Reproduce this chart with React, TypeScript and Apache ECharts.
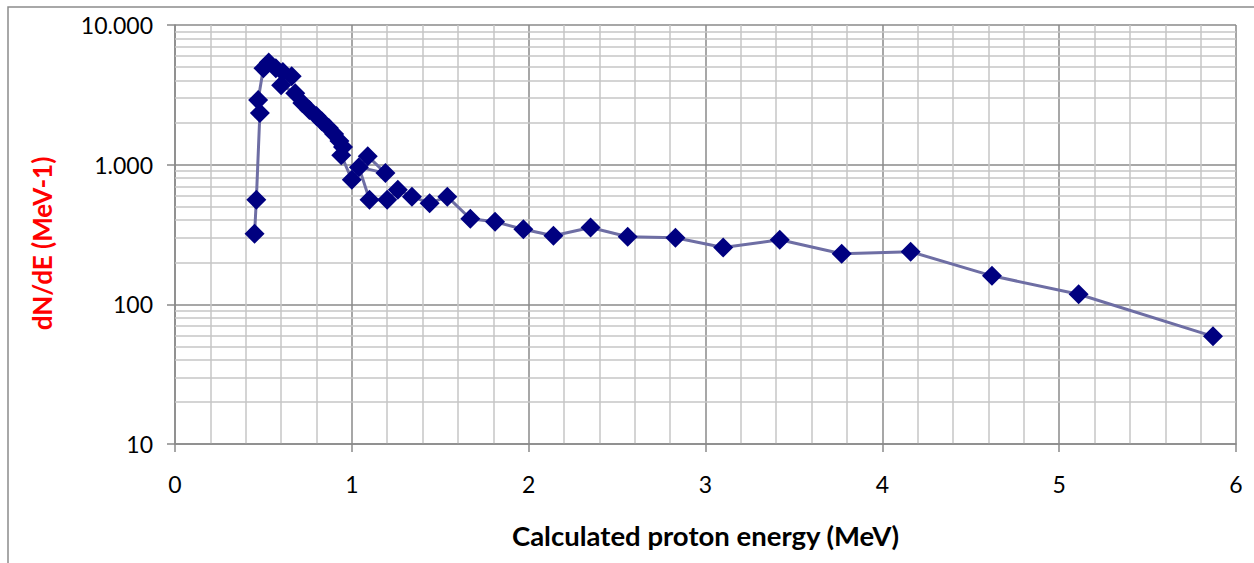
import React, { useEffect, useRef } from "react";
import * as echarts from "echarts";

// Calculated proton energy (MeV), in measurement order
const energy = [
  0.45, 0.46, 0.48, 0.47, 0.5, 0.53, 0.57, 0.61, 0.66, 0.6, 0.68, 0.72, 0.76,
  0.8, 0.83, 0.87, 0.9, 0.93, 0.95, 0.94, 1.0, 1.09, 1.19, 1.04, 1.1, 1.2,
  1.26, 1.34, 1.44, 1.54, 1.67, 1.81, 1.97, 2.14, 2.35, 2.56, 2.83, 3.1,
  3.42, 3.77, 4.16, 4.62, 5.11, 5.87,
];

// dN/dE (MeV-1)
const dNdE = [
  320, 560, 2340, 2900, 4900, 5400, 4900, 4600, 4300, 3700, 3250, 2760, 2460,
  2230, 2050, 1830, 1660, 1480, 1340, 1170, 780, 1150, 870, 960, 560, 560,
  660, 590, 530, 590, 410, 390, 345, 310, 355, 305, 300, 255, 290, 230, 238,
  160, 118, 59,
];

// Minor horizontal grid levels of the log axis
const minorLevels = [
  20, 30, 40, 50, 60, 70, 80, 90, 200, 300, 400, 500, 600, 700, 800, 900,
  2000, 3000, 4000, 5000, 6000, 7000, 8000, 9000,
];

const FONT = "Lato, 'Open Sans', sans-serif";

const withThousandsDot = (v: number) =>
  String(Math.round(v)).replace(/\B(?=(\d{3})+$)/g, ".");

export default function App() {
  const ref = useRef<HTMLDivElement>(null);

  useEffect(() => {
    if (!ref.current) return;
    const chart = echarts.init(ref.current, null, { renderer: "svg" });
    const points = energy.map((e, i) => [e, dNdE[i]]);

    chart.setOption({
      animation: false,
      backgroundColor: "#ffffff",
      textStyle: { fontFamily: FONT },
      grid: { left: 175, top: 25, right: 18, bottom: 119, containLabel: false },
      graphic: [
        {
          type: "rect",
          shape: { x: 8, y: 7, width: 1320, height: 620 },
          style: { fill: "none", stroke: "#8c8c8c", lineWidth: 1.5 },
          silent: true,
          z: -1,
        },
      ],
      xAxis: {
        type: "value",
        min: 0,
        max: 6,
        interval: 1,
        name: "Calculated proton energy (MeV)",
        nameLocation: "middle",
        nameGap: 77,
        nameTextStyle: {
          fontFamily: FONT,
          fontWeight: "bold",
          fontSize: 27.5,
          color: "#000000",
        },
        axisLine: { show: true, lineStyle: { color: "#8a8a8a", width: 1.5 } },
        axisTick: { show: true, length: 8, lineStyle: { color: "#8a8a8a", width: 1.5 } },
        axisLabel: { fontFamily: FONT, fontSize: 23, color: "#000000", margin: 28 },
        splitLine: { show: true, lineStyle: { color: "#8a8a8a", width: 1.5 } },
        minorTick: { show: false, splitNumber: 5 },
        minorSplitLine: { show: true, lineStyle: { color: "#c6c6c6", width: 1.5 } },
      },
      yAxis: {
        type: "log",
        logBase: 10,
        min: 10,
        max: 10000,
        name: "dN/dE (MeV-1)",
        nameLocation: "middle",
        nameGap: 120,
        nameRotate: 90,
        nameTextStyle: {
          fontFamily: FONT,
          fontWeight: "bold",
          fontSize: 26,
          color: "#ff0000",
          padding: [0, 18, 0, 0],
        },
        axisLine: { show: true, lineStyle: { color: "#8a8a8a", width: 1.5 } },
        axisTick: { show: true, length: 8, lineStyle: { color: "#8a8a8a", width: 1.5 } },
        axisLabel: {
          fontFamily: FONT,
          fontSize: 23,
          color: "#000000",
          margin: 22,
          formatter: withThousandsDot,
        },
        splitLine: { show: true, lineStyle: { color: "#8a8a8a", width: 1.5 } },
      },
      series: [
        {
          type: "line",
          data: points,
          z: 3,
          symbol: "diamond",
          symbolSize: 20,
          itemStyle: { color: "#000080" },
          lineStyle: { color: "#6e6ea4", width: 3 },
          markLine: {
            silent: true,
            z: 1,
            symbol: ["none", "none"],
            label: { show: false },
            lineStyle: { color: "#c6c6c6", width: 1.5, type: "solid" },
            emphasis: { disabled: true },
            data: minorLevels.map((v) => ({ yAxis: v })),
          },
        },
      ],
    });

    return () => chart.dispose();
  }, []);

  return (
    <div
      ref={ref}
      style={{ position: "fixed", left: 0, top: 0, width: 1254, height: 563 }}
    />
  );
}
